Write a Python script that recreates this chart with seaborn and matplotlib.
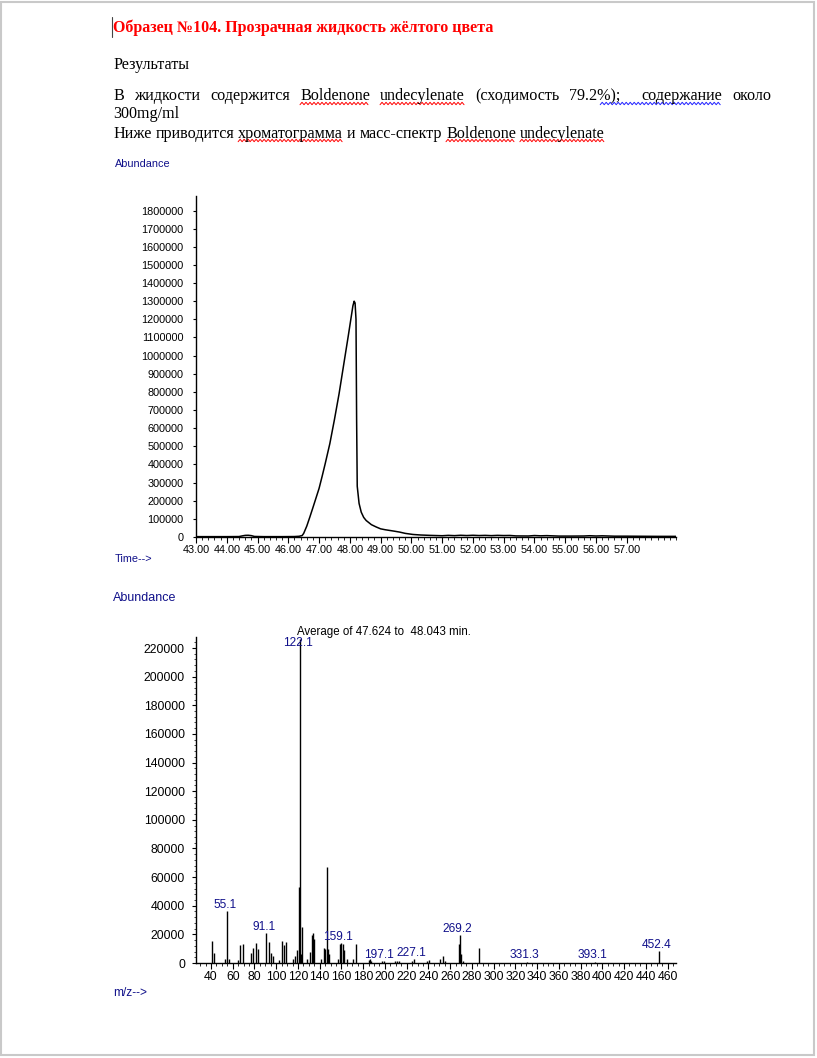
import numpy as np
import matplotlib
matplotlib.use("Agg")
import matplotlib.pyplot as plt
import seaborn as sns
from matplotlib.patches import Rectangle
from matplotlib.ticker import MultipleLocator

W, H = 817, 1058

# --- chromatogram (TIC) ---
chrom_time = [43.0, 43.5, 44.0, 44.4, 44.5, 44.6, 44.7, 44.8, 44.9, 45.2, 45.8, 46.2,
              46.35, 46.45, 46.5, 46.6, 46.7, 46.8, 46.9, 47.0, 47.1, 47.2, 47.35, 47.5,
              47.65, 47.8, 47.95, 48.05, 48.1, 48.14, 48.17, 48.2, 48.22, 48.24, 48.3,
              48.37, 48.45, 48.53, 48.7, 48.86, 49.0, 49.15, 49.3, 49.45, 49.62, 49.8,
              50.05, 50.3, 50.6, 51.0, 51.2, 51.4, 51.6, 51.8, 52.0, 52.2, 52.4, 52.6,
              52.8, 53.0, 53.2, 53.4, 53.8, 54.0, 54.2, 54.4, 54.8, 55.2, 55.6, 55.8,
              56.0, 56.2, 56.6, 57.0, 57.5, 58.0, 58.6]
chrom_abund = [2000, 2000, 2000, 2500, 6000, 9000, 9500, 7500, 3000, 2000, 2000, 2500,
               4000, 8000, 20000, 60000, 110000, 162000, 215000, 268000, 335000, 405000, 515000, 648000,
               790000, 950000, 1110000, 1220000, 1275000, 1300000, 1290000, 1200000, 650000, 280000, 185000,
               137000, 108000, 91000, 68000, 55000, 45000, 40000, 36000, 32000, 27000, 20000,
               14000, 11000, 9000, 7000, 9000, 7500, 9500, 8000, 9500, 8000, 9000, 7500,
               9000, 8000, 8500, 6000, 5500, 8000, 6500, 7500, 5000, 5000, 5500, 7000,
               5500, 6500, 4500, 4500, 4000, 3500, 3500]

chrom_xticks = list(range(43, 58))
chrom_yticks = list(range(0, 1900000, 100000))

# --- mass spectrum, average of 47.624 to 48.043 min ---
ms_mz = [41, 43, 53, 55, 57, 65, 67, 69, 77, 79, 81, 83, 91, 93, 95, 97, 103, 105, 107, 109,
         115, 117, 119, 121, 122, 123, 124, 128, 131, 133, 134, 135, 141, 144, 145, 147, 148,
         149, 157, 159, 160, 161, 162, 165, 171, 173, 185, 186, 187, 197, 199, 209, 211, 213,
         225, 227, 239, 241, 251, 253, 255, 268, 269, 270, 272, 287, 331, 393, 452]
ms_abund = [15400, 7000, 2500, 36000, 3000, 2000, 12500, 13000, 7000, 10500, 14000, 9500,
            21000, 15000, 7000, 5000, 2000, 15500, 12500, 14500, 3000, 5000, 9000, 53000,
            226000, 6000, 25000, 3000, 8000, 19500, 21000, 17000, 3000, 10500, 9500, 67000,
            10000, 6500, 3000, 13500, 14000, 13500, 9000, 3000, 3000, 13000, 2000, 2500, 1500,
            1500, 1500, 1200, 1200, 1500, 1500, 2500, 1500, 2000, 2500, 5000, 1500, 13000,
            19500, 6000, 1500, 10500, 600, 500, 8500]
ms_labels = [55.1, 91.1, 122.1, 159.1, 197.1, 227.1, 269.2, 331.3, 393.1, 452.4]
ms_xticks = list(range(40, 461, 20))
ms_yticks = list(range(0, 220001, 20000))

NAVY = "#10108a"
SERIF = ["Liberation Serif", "DejaVu Serif"]

sns.set_theme(style="white")
plt.rcParams["font.family"] = ["Liberation Sans", "DejaVu Sans"]

fig = plt.figure(figsize=(W / 100, H / 100), dpi=100)
fig.patch.set_facecolor("white")

# page layer, in pixel units
page = fig.add_axes([0, 0, 1, 1], zorder=0)
page.set_xlim(0, W)
page.set_ylim(H, 0)
page.axis("off")
page.add_patch(Rectangle((0.5, 1.5), 814, 1053.5, fill=False, ec="#c9c9c9", lw=1.5))

renderer = fig.canvas.get_renderer()


def wavy(x0, x1, y, color):
    xs = np.arange(x0, x1 + 0.1, 2.0)
    ys = y + np.where(np.arange(len(xs)) % 2 == 0, 1.2, -1.2)
    page.plot(xs, ys, color=color, lw=0.7)


def put_line(words, y, x0, size, x1=None, weights=None):
    arts = [page.text(0, y, w, fontsize=size, family=SERIF, va="baseline", color="black")
            for w in words]
    widths = [a.get_window_extent(renderer).width for a in arts]
    if weights is None:
        weights = [1] * (len(words) - 1)
    if x1 is None:
        sp = page.text(0, y, "a a", fontsize=size, family=SERIF)
        sp2 = page.text(0, y, "aa", fontsize=size, family=SERIF)
        gap = sp.get_window_extent(renderer).width - sp2.get_window_extent(renderer).width
        sp.remove()
        sp2.remove()
    else:
        gap = (x1 - x0 - sum(widths)) / sum(weights)
    x = x0
    spans = []
    for i, (a, w) in enumerate(zip(arts, widths)):
        a.set_x(x)
        spans.append((x, x + w))
        if i < len(weights):
            x += w + gap * weights[i]
    return spans


# caret and title
page.plot([112, 112], [17, 37], color="#444444", lw=0.8)
page.text(113, 32.5, "Образец №104. Прозрачная жидкость жёлтого цвета", fontsize=11.5,
          family=SERIF, weight="bold", color="#ff0000", va="baseline")
put_line(["Результаты"], 69, 113, 11.6)

line1 = ["В", "жидкости", "содержится", "Boldenone", "undecylenate", "(сходимость",
         "79.2%);", "содержание", "около"]
s1 = put_line(line1, 100.5, 113, 11.6, x1=771, weights=[1, 1, 1, 1, 1, 1, 2, 1])
put_line(["300mg/ml"], 117.5, 113, 11.6)
line3 = ["Ниже", "приводится", "хроматограмма", "и", "масс-спектр", "Boldenone", "undecylenate"]
s3 = put_line(line3, 137.5, 113, 11.6)

for i in (3, 4):
    wavy(s1[i][0], s1[i][1], 103.5, "#ff0000")
wavy(s1[6][0] + (s1[6][1] - s1[6][0]) * 0.6, s1[7][1], 103.5, "#2020ff")
for i in (2, 5, 6):
    wavy(s3[i][0], s3[i][1], 140.5, "#ff0000")

# axis captions
page.text(115, 167, "Abundance", fontsize=7.8, color=NAVY, va="baseline")
page.text(115, 562.5, "Time-->", fontsize=7.8, color=NAVY, va="baseline")
page.text(113, 601, "Abundance", fontsize=9.0, color=NAVY, va="baseline")
page.text(113, 995.5, "m/z-->", fontsize=8.6, color=NAVY, va="baseline")
page.text(297, 635, "Average of 47.624 to  48.043 min.", fontsize=8.3, color="black",
          va="baseline")

# --- chromatogram ---
ax1 = fig.add_axes([196 / W, 1 - 537 / H, 480 / W, 341 / H], zorder=2)
ax1.patch.set_alpha(0)
sns.lineplot(x=chrom_time, y=chrom_abund, ax=ax1, color="black", lw=1.1, estimator=None)
ax1.set_xlim(43, 58.6)
ax1.set_ylim(0, 1880000)
ax1.set_xticks(chrom_xticks)
ax1.set_xticklabels([f"{t:.2f}" for t in chrom_xticks])
ax1.xaxis.set_minor_locator(MultipleLocator(0.2))
ax1.set_yticks(chrom_yticks)
ax1.set_yticklabels([str(v) for v in chrom_yticks])
ax1.tick_params(axis="both", labelsize=7.8, colors="black", width=0.8)
ax1.tick_params(axis="x", which="major", length=4, pad=1.5, bottom=True)
ax1.tick_params(axis="x", which="minor", length=2.5, width=0.7, bottom=True)
ax1.tick_params(axis="y", which="major", length=2, pad=7, left=True)

# --- mass spectrum ---
ax2 = fig.add_axes([196 / W, 1 - 963 / H, 480 / W, 326 / H], zorder=2)
ax2.patch.set_alpha(0)
ax2.vlines(ms_mz, 0, ms_abund, color="black", lw=1.0)
ax2.set_xlim(26.2, 467.8)
ax2.set_ylim(0, 227700)
ax2.set_xticks(ms_xticks)
ax2.set_xticklabels([str(v) for v in ms_xticks])
ax2.xaxis.set_minor_locator(MultipleLocator(5))
ax2.set_yticks(ms_yticks)
ax2.set_yticklabels([str(v) for v in ms_yticks])
ax2.yaxis.set_minor_locator(MultipleLocator(4000))
ax2.tick_params(axis="both", labelsize=8.8, colors="black", width=0.8)
ax2.tick_params(axis="x", which="major", length=4, pad=1.5, bottom=True)
ax2.tick_params(axis="x", which="minor", length=2.5, width=0.7, bottom=True)
ax2.tick_params(axis="y", which="major", length=3, pad=5, left=True)
ax2.tick_params(axis="y", which="minor", length=1.8, width=0.6, left=True)

peak = dict(zip(ms_mz, ms_abund))
for m in ms_labels:
    h = min(peak.get(int(round(m)), 0), 219000)
    h = max(h, 1500)
    ax2.annotate(f"{m:.1f}", xy=(m, h), xytext=(-2, 4.5), textcoords="offset points",
                 ha="center", va="center", fontsize=8.6, color=NAVY)

for ax in (ax1, ax2):
    sns.despine(ax=ax)
    for s in ("left", "bottom"):
        ax.spines[s].set_color("black")
        ax.spines[s].set_linewidth(1.0)

fig.savefig("out.png", dpi=100, facecolor="white")
